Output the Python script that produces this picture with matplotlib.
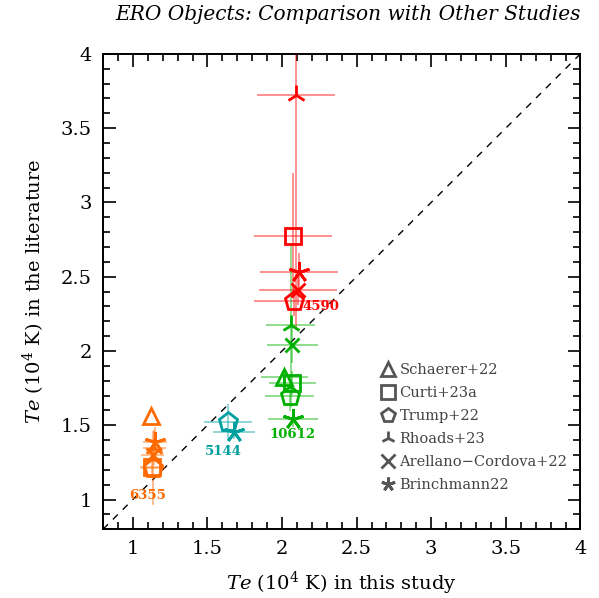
import numpy as np
import matplotlib
matplotlib.use('Agg')
import matplotlib.pyplot as plt
from matplotlib.lines import Line2D

plt.rcParams['font.family'] = 'DejaVu Serif'
plt.rcParams['mathtext.fontset'] = 'dejavuserif'

# Studies compared (order matches the legend)
studies = ['Schaerer+22', 'Curti+23a', 'Trump+22', 'Rhoads+23',
           'Arellano\u2212Cordova+22', 'Brinchmann22']
markers = ['^', 's', 'p', '2', 'x', (5, 2, 0)]
marker_sizes = [12, 11, 14, 14, 10, 15]

# ERO objects: Te (10^4 K) from this study (x) vs literature (y); NaN = not measured
object_ids = ['4590', '10612', '6355', '5144']
colors = ['#ff0000', '#00b000', '#ff6a00', '#00a0a0']

te_this = {
    '4590':  [np.nan, 2.073, 2.083, 2.093, 2.106, 2.115],
    '10612': [2.016, 2.070, 2.050, 2.059, 2.070, 2.073],
    '6355':  [1.122, 1.130, 1.135, 1.145, 1.132, 1.150],
    '5144':  [np.nan, np.nan, 1.640, np.nan, np.nan, 1.680],
}
te_this_err = {
    '4590':  [np.nan, 0.26, 0.27, 0.26, 0.26, 0.26],
    '10612': [0.16, 0.16, 0.165, 0.165, 0.168, 0.165],
    '6355':  [0.0, 0.08, 0.08, 0.08, 0.08, 0.08],
    '5144':  [np.nan, np.nan, 0.16, np.nan, np.nan, 0.14],
}
te_lit = {
    '4590':  [np.nan, 2.776, 2.338, 3.725, 2.410, 2.530],
    '10612': [1.826, 1.782, 1.696, 2.175, 2.040, 1.541],
    '6355':  [1.563, 1.218, 1.210, 1.350, 1.300, 1.386],
    '5144':  [np.nan, np.nan, 1.523, np.nan, np.nan, 1.456],
}
te_lit_err = {
    '4590':  [np.nan, 0.42, 0.10, 1.57, 0.10, 0.13],
    '10612': [0.05, 0.08, 0.10, 0.55, 0.12, 0.05],
    '6355':  [0.0, 0.05, 0.25, 0.12, 0.05, 0.10],
    '5144':  [np.nan, np.nan, 0.12, np.nan, np.nan, 0.05],
}

fig = plt.figure(figsize=(5.99, 5.98), dpi=100)
ax = fig.add_axes([0.172, 0.115, 0.797, 0.795])

for oid, col in zip(object_ids, colors):
    for i in range(len(studies)):
        x, y = te_this[oid][i], te_lit[oid][i]
        if np.isnan(x):
            continue
        ax.errorbar(x, y, xerr=te_this_err[oid][i], yerr=te_lit_err[oid][i],
                    fmt='none', ecolor=col, elinewidth=1.1, alpha=0.55, zorder=2)
        ax.plot(x, y, marker=markers[i], ms=marker_sizes[i], mfc='none',
                mec=col, mew=2.0, ls='none', zorder=3)

# object labels
ax.text(2.14, 2.30, '4590', color=colors[0], fontsize=9.5, ha='left', va='center',
        fontweight='bold')
ax.text(2.07, 1.44, '10612', color=colors[1], fontsize=9.5, ha='center', va='center',
        fontweight='bold')
ax.text(1.10, 1.03, '6355', color=colors[2], fontsize=9.5, ha='center', va='center',
        fontweight='bold')
ax.text(1.61, 1.32, '5144', color=colors[3], fontsize=9.5, ha='center', va='center',
        fontweight='bold')

# one-to-one line
ax.plot([0.8, 4], [0.8, 4], ls=(0, (5, 5)), color='black', lw=1.0, zorder=1)

ax.set_xlim(0.8, 4)
ax.set_ylim(0.8, 4)
ax.set_xticks(np.arange(1, 4.01, 0.5))
ax.set_yticks(np.arange(1, 4.01, 0.5))
ax.set_xticklabels(['1', '1.5', '2', '2.5', '3', '3.5', '4'])
ax.set_yticklabels(['1', '1.5', '2', '2.5', '3', '3.5', '4'])
ax.set_xticks(np.arange(0.8, 4.01, 0.1), minor=True)
ax.set_yticks(np.arange(0.8, 4.01, 0.1), minor=True)
ax.tick_params(which='both', direction='in', top=True, right=True, width=1.2)
ax.tick_params(which='major', length=9, labelsize=14, pad=8)
ax.tick_params(which='minor', length=5)
for sp in ax.spines.values():
    sp.set_linewidth(1.4)

ax.set_xlabel(r'$Te$ (10$^4$ K) in this study', fontsize=14, labelpad=8)
ax.set_ylabel(r'$Te$ (10$^4$ K) in the literature', fontsize=14, labelpad=10)
ax.set_title('ERO Objects: Comparison with Other Studies', fontsize=14.5,
             style='italic', loc='right', pad=24)

handles = [Line2D([0], [0], marker=m, ls='none', mfc='none', mec='#555555',
                  mew=2, ms=10) for m in markers]
ax.legend(handles, studies, loc='lower right', bbox_to_anchor=(1.0, 0.05),
          frameon=False, fontsize=10.5, labelcolor='#444444', handletextpad=0.3,
          labelspacing=0.62, handlelength=1.0)

fig.savefig('out.png', dpi=100)
